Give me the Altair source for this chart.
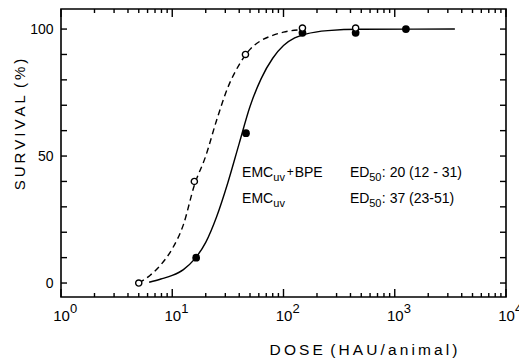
import altair as alt
import pandas as pd

# ---- data ----
open_dose = [5.0, 15.8, 45.5, 148, 445]
open_surv = [0, 40, 90, 100.4, 100.4]
filled_dose = [16.4, 46, 148, 445, 1260]
filled_surv = [10, 59, 98.5, 98.5, 100]

dashed_dose = [5.0, 6.3, 8.0, 10, 12.6, 15.8, 20, 25, 31.6, 40, 50, 63, 80, 100, 148]
dashed_surv = [0, 3, 7.5, 13.5, 23, 38.5, 50, 64, 77, 86, 92, 95.5, 97.5, 98.8, 99.8]
solid_dose = [6.2, 7.9, 10, 12.6, 15.8, 20, 25, 31.6, 40, 50, 63, 80, 100, 126, 158, 250, 500, 3470]
solid_surv = [0.3, 1.6, 3, 5.3, 9.3, 16, 26, 39.5, 55, 69.5, 80.5, 88.5, 93.5, 96.5, 98, 99.4, 99.9, 100]

x_major = [1, 10, 100, 1000, 10000]
x_exp = ["0", "1", "2", "3", "4"]
x_minor = [m * 10 ** k for k in range(4) for m in range(2, 10)]
y_labels = [0, 50, 100]
y_ticks = [0, 10, 20, 30, 40, 50, 60, 70, 80, 90, 100]

# annotation pieces (text, dose anchor, survival anchor)
ann_main_text = ["EMC", "BPE", "ED", ":  20  (12 - 31)", "EMC", "ED", ":  37  (23-51)"]
ann_main_dose = [42.4, 126, 396, 766, 42.4, 396, 766]
ann_main_surv = [41.7, 41.7, 41.7, 41.7, 31.5, 31.5, 31.5]
ann_sub_text = ["uv", "50", "uv", "50"]
ann_sub_dose = [81, 590, 81, 590]
ann_sub_surv = [40.1, 40.1, 29.9, 29.9]
ann_plus_text = ["+"]
ann_plus_dose = [107]
ann_plus_surv = [42.0]

W, H = 445, 288
FONT = "Liberation Sans"
Y0, Y1 = -5.5, 107.9
PX_PER_UNIT = H / (Y1 - Y0)
PX_PER_DECADE = W / 4.0

xs = alt.Scale(type="log", domain=[1, 10000])
ys = alt.Scale(domain=[Y0, Y1])

thin = "\u2009"
x_title = thin.join(list("DOSE")) + thin + " " + thin.join(list("(HAU/animal)"))
y_title = thin.join(list("SURVIVAL")) + thin + " " + thin.join(list("(%)"))

base_axes = alt.Chart(pd.DataFrame({"dose": [1.0], "surv": [0.0]})).mark_point(opacity=0).encode(
    x=alt.X("dose:Q", scale=xs, axis=alt.Axis(
        values=x_major, ticks=False, domain=False, grid=False,
        labelExpr="'10'",
        labelFontSize=15, labelPadding=11, labelColor="black", labelFont=FONT,
        title=x_title, titleFont=FONT, titleFontSize=15.5, titleFontWeight="normal",
        titleX=302, titleY=57, titleAlign="center", titleBaseline="alphabetic",
        titleColor="black", labelFlush=False, labelOverlap=False)),
    y=alt.Y("surv:Q", scale=ys, axis=alt.Axis(
        values=y_labels, ticks=False, domain=False, grid=False,
        labelFontSize=14, labelPadding=8, labelColor="black", labelFont=FONT,
        title=y_title, titleFont=FONT, titleFontSize=15, titleFontWeight="normal",
        titleX=-37, titleY=115, titleAlign="center", titleBaseline="alphabetic",
        titleAngle=-90, titleColor="black")),
)

exps = alt.Chart(pd.DataFrame({"dose": x_major, "e": x_exp})).mark_text(
    align="left", baseline="alphabetic", font=FONT, fontSize=13, color="black", dx=9).encode(
    x=alt.X("dose:Q", scale=xs), y=alt.value(H + 16), text="e:N")


def xticks(vals, length):
    df = pd.DataFrame({"dose": vals, "y0": Y0, "y1": Y0 + length / PX_PER_UNIT,
                       "t0": Y1, "t1": Y1 - length / PX_PER_UNIT})
    bot = alt.Chart(df).mark_rule(color="black", strokeWidth=1.4).encode(
        x=alt.X("dose:Q", scale=xs), y=alt.Y("y0:Q", scale=ys), y2="y1:Q")
    top = alt.Chart(df).mark_rule(color="black", strokeWidth=1.4).encode(
        x=alt.X("dose:Q", scale=xs), y=alt.Y("t0:Q", scale=ys), y2="t1:Q")
    return [bot, top]


ydf = pd.DataFrame({"surv": y_ticks, "x0": 1.0, "x1": 10 ** (6 / PX_PER_DECADE),
                    "r0": 10000.0, "r1": 10 ** (4 - 6 / PX_PER_DECADE)})
yl = alt.Chart(ydf).mark_rule(color="black", strokeWidth=1.4).encode(
    y=alt.Y("surv:Q", scale=ys), x=alt.X("x0:Q", scale=xs), x2="x1:Q")
yr = alt.Chart(ydf).mark_rule(color="black", strokeWidth=1.4).encode(
    y=alt.Y("surv:Q", scale=ys), x=alt.X("r0:Q", scale=xs), x2="r1:Q")

dashed = alt.Chart(pd.DataFrame({"dose": dashed_dose, "surv": dashed_surv})).mark_line(
    color="black", strokeWidth=1.4, strokeDash=[6, 4], interpolate="monotone").encode(
    x=alt.X("dose:Q", scale=xs), y=alt.Y("surv:Q", scale=ys), order="dose:Q")
solid = alt.Chart(pd.DataFrame({"dose": solid_dose, "surv": solid_surv})).mark_line(
    color="black", strokeWidth=1.4, interpolate="monotone").encode(
    x=alt.X("dose:Q", scale=xs), y=alt.Y("surv:Q", scale=ys), order="dose:Q")

filled = alt.Chart(pd.DataFrame({"dose": filled_dose, "surv": filled_surv})).mark_point(
    shape="circle", filled=True, color="black", size=60, opacity=1).encode(
    x=alt.X("dose:Q", scale=xs), y=alt.Y("surv:Q", scale=ys))
opn = alt.Chart(pd.DataFrame({"dose": open_dose, "surv": open_surv})).mark_point(
    shape="circle", filled=True, fill="white", stroke="black", strokeWidth=1.4, size=38, opacity=1).encode(
    x=alt.X("dose:Q", scale=xs), y=alt.Y("surv:Q", scale=ys))

main_txt = alt.Chart(pd.DataFrame({"dose": ann_main_dose, "surv": ann_main_surv, "t": ann_main_text})).mark_text(
    align="left", baseline="alphabetic", font=FONT, fontSize=14, color="black").encode(
    x=alt.X("dose:Q", scale=xs), y=alt.Y("surv:Q", scale=ys), text="t:N")
sub_txt = alt.Chart(pd.DataFrame({"dose": ann_sub_dose, "surv": ann_sub_surv, "t": ann_sub_text})).mark_text(
    align="left", baseline="alphabetic", font=FONT, fontSize=11, color="black").encode(
    x=alt.X("dose:Q", scale=xs), y=alt.Y("surv:Q", scale=ys), text="t:N")
plus_txt = alt.Chart(pd.DataFrame({"dose": ann_plus_dose, "surv": ann_plus_surv, "t": ann_plus_text})).mark_text(
    align="left", baseline="alphabetic", font=FONT, fontSize=12, color="black").encode(
    x=alt.X("dose:Q", scale=xs), y=alt.Y("surv:Q", scale=ys), text="t:N")

layers = ([base_axes, exps] + xticks(x_major, 8) + xticks(x_minor, 4)
          + [yl, yr, dashed, solid, filled, opn, main_txt, sub_txt, plus_txt])

chart = alt.layer(*layers).properties(
    width=W, height=H,
    autosize=alt.AutoSizeParams(type="none"),
    padding={"left": 61, "top": 9, "right": 13, "bottom": 64},
    background="white",
).configure_view(stroke="black", strokeWidth=1.6)

chart.save("out.html", embed_options={"renderer": "svg", "actions": False})
